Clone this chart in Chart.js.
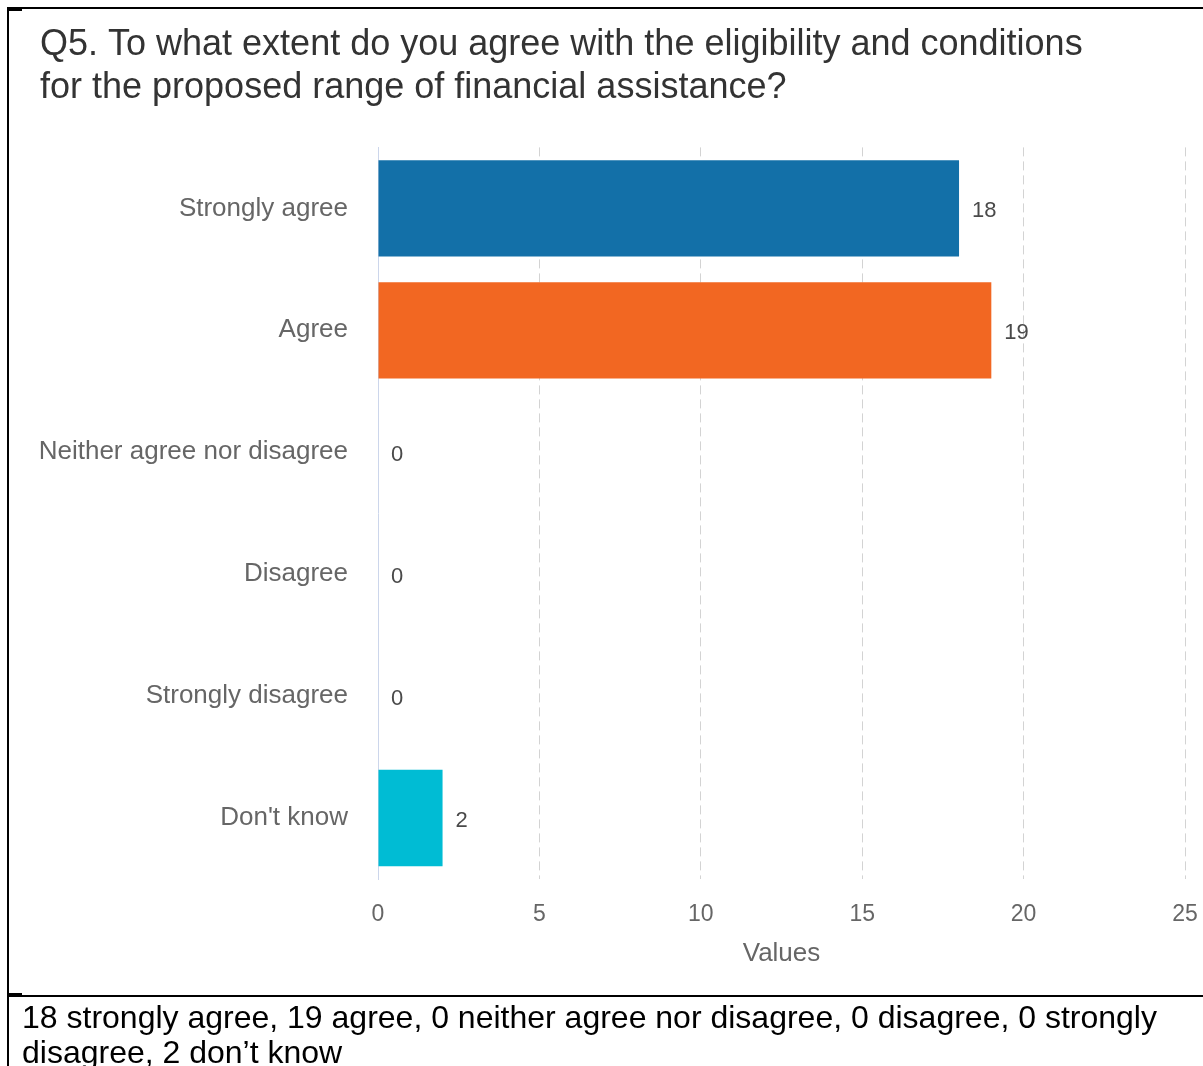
<!DOCTYPE html>
<html>
<head>
<meta charset="utf-8">
<script src="https://cdn.jsdelivr.net/npm/chart.js@4"></script>
<style>
    html, body { margin: 0; padding: 0; background: #fff; }
    body { width: 1203px; height: 1066px; position: relative; overflow: hidden; }
    #chartBox { position: absolute; left: 0; top: 0; width: 1203px; height: 995px; }
    .rule { position: absolute; background: #000; }
    #caption {
        position: absolute; left: 22px; top: 1000px;
        font-family: "Liberation Sans", Arial, sans-serif;
        font-size: 32px; line-height: 35px; color: #000;
        white-space: nowrap;
    }
</style>
</head>
<body>
<div id="chartBox"><canvas id="q5Chart"></canvas></div>

<!-- table frame around the chart and caption -->
<div class="rule" style="left:7px; top:7px; width:1196px; height:2px;"></div>
<div class="rule" style="left:7px; top:9px; width:15px; height:2px;"></div>
<div class="rule" style="left:7px; top:7px; width:2px; height:1059px;"></div>
<div class="rule" style="left:7px; top:995px; width:1196px; height:2px;"></div>
<div class="rule" style="left:7px; top:993px; width:15px; height:2px;"></div>

<div id="caption">18 strongly agree, 19 agree, 0 neither agree nor disagree, 0 disagree, 0 strongly<br>disagree, 2 don’t know</div>

<script>
    const questionTitle = [
        'Q5. To what extent do you agree with the eligibility and conditions',
        'for the proposed range of financial assistance?'
    ];
    const answers = ['Strongly agree', 'Agree', 'Neither agree nor disagree', 'Disagree', 'Strongly disagree', "Don't know"];
    const responses = [18, 19, 0, 0, 0, 2];
    const barColors = ['#1370a8', '#f26722', '#7cb5ec', '#90ed7d', '#f7a35c', '#00bcd4'];
    const valueTicks = [0, 5, 10, 15, 20, 25];

    const chartFont = '"Liberation Sans", Arial, sans-serif';

    // writes each bar's count just past its end
    const barValueLabels = {
        id: 'barValueLabels',
        afterDatasetsDraw(chart) {
            const ctx = chart.ctx;
            const meta = chart.getDatasetMeta(0);
            ctx.save();
            ctx.font = '22px ' + chartFont;
            ctx.fillStyle = '#4a4a4a';
            ctx.textAlign = 'left';
            ctx.textBaseline = 'middle';
            meta.data.forEach((bar, i) => {
                const value = chart.data.datasets[0].data[i];
                ctx.fillText(String(value), bar.x + 13, bar.y + 3);
            });
            ctx.restore();
        }
    };

    const ctx = document.getElementById('q5Chart').getContext('2d');
    new Chart(ctx, {
        type: 'bar',
        data: {
            labels: answers,
            datasets: [{
                label: 'Values',
                data: responses,
                backgroundColor: barColors,
                borderWidth: 0,
                categoryPercentage: 1,
                barPercentage: 0.79
            }]
        },
        options: {
            indexAxis: 'y',
            responsive: true,
            maintainAspectRatio: false,
            animation: false,
            layout: {
                padding: { left: 40, right: 18, top: 14, bottom: 26 }
            },
            plugins: {
                legend: { display: false },
                tooltip: { enabled: false },
                title: {
                    display: true,
                    text: questionTitle,
                    align: 'start',
                    color: '#333',
                    font: { family: chartFont, size: 36, weight: 'normal', lineHeight: 1.2 },
                    padding: { top: 9, bottom: 38 }
                }
            },
            scales: {
                x: {
                    min: valueTicks[0],
                    max: valueTicks[valueTicks.length - 1],
                    afterBuildTicks(scale) {
                        scale.ticks = valueTicks.map(v => ({ value: v }));
                    },
                    afterFit(scale) {
                        // fixed band under the plot; tick padding should not widen the sides
                        scale.height = 90;
                        scale.paddingLeft = 0;
                        scale.paddingRight = 0;
                    },
                    grid: {
                        drawTicks: false,
                        color: c => (c.tick && c.tick.value === 0) ? 'rgba(0,0,0,0)' : '#d3d3d3',
                        lineWidth: 1
                    },
                    border: { display: false, dash: [9, 5] },
                    ticks: {
                        color: '#666',
                        padding: 22,
                        font: { family: chartFont, size: 23 }
                    },
                    title: {
                        display: true,
                        text: 'Values',
                        color: '#666',
                        font: { family: chartFont, size: 26 },
                        padding: { top: 0, bottom: 0 }
                    }
                },
                y: {
                    afterFit(scale) {
                        scale.width = 338;
                    },
                    grid: { display: false, drawTicks: false },
                    border: { display: true, color: '#ccd6eb', width: 1 },
                    ticks: {
                        color: '#666',
                        padding: 30,
                        font: { family: chartFont, size: 26 }
                    }
                }
            }
        },
        plugins: [barValueLabels]
    });
</script>
</body>
</html>
